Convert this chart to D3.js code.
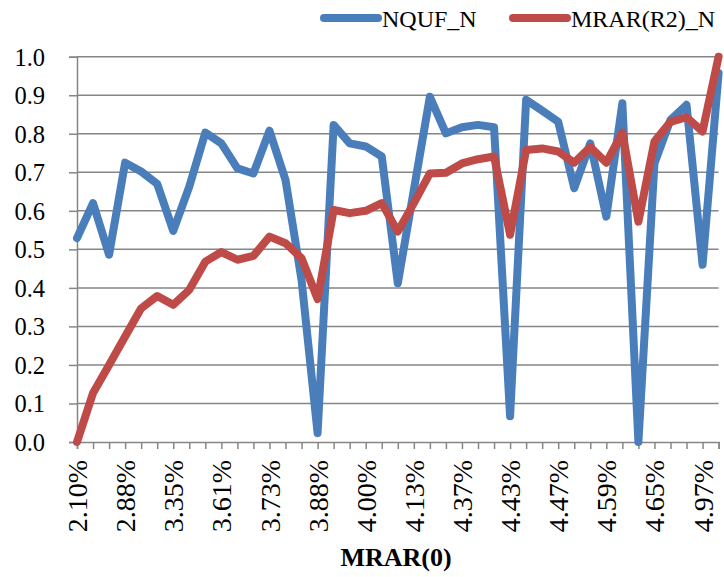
<!DOCTYPE html>
<html>
<head>
<meta charset="utf-8">
<script src="https://cdn.jsdelivr.net/npm/d3@7"></script>
<style>
  body { margin: 0; background: #fff; }
  text { font-family: "Liberation Serif", serif; fill: #000; }
</style>
</head>
<body>
<svg id="chart" width="724" height="577"></svg>
<script>
// 41 categories (sorted MRAR(0) values); only every third one is labelled
var tickLabels = ["2.10%", "2.88%", "3.35%", "3.61%", "3.73%", "3.88%", "4.00%",
                  "4.13%", "4.37%", "4.43%", "4.47%", "4.59%", "4.65%", "4.97%"];

var nqufN = [0.529, 0.620, 0.486, 0.725, 0.702, 0.670, 0.548, 0.663, 0.803, 0.775,
             0.710, 0.697, 0.808, 0.680, 0.420, 0.023, 0.823, 0.775, 0.767, 0.741,
             0.412, 0.654, 0.896, 0.801, 0.817, 0.823, 0.817, 0.067, 0.888, 0.860,
             0.831, 0.659, 0.775, 0.585, 0.879, 0.000, 0.723, 0.836, 0.875, 0.460,
             0.957];

var mrarR2N = [0.000, 0.127, 0.200, 0.274, 0.347, 0.379, 0.356, 0.395, 0.468, 0.493,
               0.473, 0.483, 0.533, 0.516, 0.477, 0.371, 0.602, 0.594, 0.600, 0.620,
               0.546, 0.620, 0.697, 0.699, 0.723, 0.734, 0.741, 0.538, 0.758, 0.762,
               0.754, 0.725, 0.765, 0.725, 0.803, 0.572, 0.780, 0.831, 0.843, 0.806,
               1.000];

var seriesNames = ["NQUF_N", "MRAR(R2)_N"];
var colors = ["#4a7ebb", "#be4b48"];

var svg = d3.select("#chart");
var plotLeft = 77, plotRight = 718.6, plotTop = 56.7, plotBottom = 442;

var x = d3.scaleLinear().domain([0, nqufN.length - 1]).range([plotLeft, plotRight]);
var y = d3.scaleLinear().domain([0, 1]).range([plotBottom, plotTop]);

// gridlines + y axis
svg.append("g").selectAll("line").data(d3.range(1, 11)).enter().append("line")
    .attr("x1", plotLeft).attr("x2", plotRight)
    .attr("y1", function (d) { return y(d / 10); })
    .attr("y2", function (d) { return y(d / 10); })
    .attr("stroke", "#868686").attr("stroke-width", 1.5);

var yAxis = d3.axisLeft(y).tickValues(d3.range(0, 11).map(function (d) { return d / 10; }))
    .tickFormat(d3.format(".1f")).tickSize(8).tickPadding(24);
var gy = svg.append("g").attr("transform", "translate(" + plotLeft + ",0)").call(yAxis);
gy.select(".domain").attr("stroke", "#868686").attr("stroke-width", 1.5);
gy.selectAll(".tick line").attr("stroke", "#868686").attr("stroke-width", 1.5);
gy.selectAll(".tick text").style("font-size", "24.5px").attr("dy", "0.34em");

// x axis
var xAxis = d3.axisBottom(x).tickValues(d3.range(0, nqufN.length)).tickSize(7)
    .tickFormat(function (d) { return d % 3 === 0 ? tickLabels[d / 3] : ""; });
var gx = svg.append("g").attr("transform", "translate(0," + plotBottom + ")").call(xAxis);
gx.select(".domain").attr("stroke", "#868686").attr("stroke-width", 1.5);
gx.selectAll(".tick line").attr("stroke", "#868686").attr("stroke-width", 1.5);
gx.selectAll(".tick text").style("font-size", "28px")
    .attr("transform", "rotate(-90)").attr("text-anchor", "end")
    .attr("x", -18).attr("y", 0).attr("dy", "0.34em");

svg.append("text").attr("x", 396).attr("y", 566)
    .attr("text-anchor", "middle").style("font-size", "26px").style("font-weight", "bold")
    .text("MRAR(0)");

// lines
var line = d3.line().x(function (d, i) { return x(i); }).y(function (d) { return y(d); });
[nqufN, mrarR2N].forEach(function (s, k) {
    svg.append("path").datum(s).attr("d", line)
        .attr("fill", "none").attr("stroke", colors[k]).attr("stroke-width", 8)
        .attr("stroke-linejoin", "round").attr("stroke-linecap", "round");
});

// legend
var legendX = [324, 513];
seriesNames.forEach(function (name, k) {
    var g = svg.append("g").attr("transform", "translate(" + legendX[k] + ",18)");
    g.append("line").attr("x1", 0).attr("x2", 54).attr("y1", 0).attr("y2", 0)
        .attr("stroke", colors[k]).attr("stroke-width", 8).attr("stroke-linecap", "round");
    g.append("text").attr("x", 58).attr("y", 9).style("font-size", "24px").text(name);
});
</script>
</body>
</html>
